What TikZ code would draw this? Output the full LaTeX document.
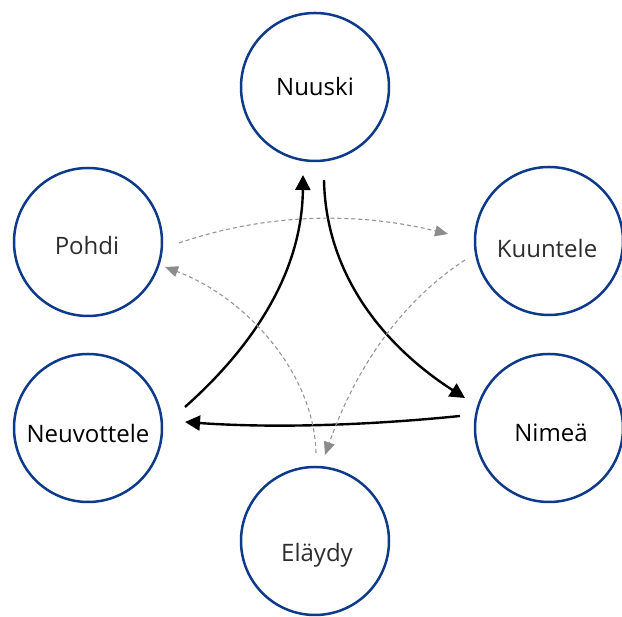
\documentclass[tikz,border=0pt]{standalone}
\usepackage{fontspec}
\setmainfont{Open Sans}
\usetikzlibrary{arrows.meta,calc}
\definecolor{ringblue}{RGB}{14,58,138}
\definecolor{flowgray}{RGB}{150,150,150}
\definecolor{tipgray}{RGB}{140,140,140}
\definecolor{softtext}{RGB}{45,45,45}
\begin{document}
\begin{tikzpicture}[x=1pt,y=1pt,
  ring/.style={circle, draw=ringblue, line width=2.5pt, minimum size=148pt,
    inner sep=0pt, outer sep=0pt},
  lblmain/.style={anchor=base, font=\fontsize{24}{28}\selectfont, text=black, inner sep=0pt},
  lblsoft/.style={lblmain, text=softtext},
  mainflow/.style={line width=2.4pt, -{Triangle[length=15pt,width=15pt]}},
  sideflow/.style={flowgray, line width=1.1pt, dash pattern=on 4pt off 3pt,
    -{Triangle[length=13pt,width=11pt,color=tipgray,fill=tipgray]}}]

\useasboundingbox[fill=white] (0,0) rectangle (622,617);

% circles
\node[ring] (nuuski) at (315,530) {};
\node[ring] (pohdi) at (88,375) {};
\node[ring] (kuuntele) at (549,376) {};
\node[ring] (neuvottele) at (88,189) {};
\node[ring] (nimea) at (549,189) {};
\node[ring] (elaydy) at (315,76) {};

% labels
\node[lblmain] (nuuski-t) at (315,521) {Nuuski};
\node[lblsoft] (pohdi-t) at (87,362) {Pohdi};
\node[lblsoft] (kuuntele-t) at (547,359) {Kuuntele};
\node[lblmain] (neuvottele-t) at (88,174) {Neuvottele};
\node[lblmain] (nimea-t) at (551,175) {Nimeä};
\node[lblsoft] (elaydy-t) at (317,55) {Eläydy};

% main cycle
\draw[mainflow] ($(nuuski)+(9,-93)$) .. controls +(2,-100) and +(-75,48) .. ($(nimea)+(-84,30)$);
\draw[mainflow] ($(nimea)+(-89,12)$) .. controls +(-99,-10) and +(84,-6) .. ($(neuvottele)+(97,6)$);
\draw[mainflow] ($(neuvottele)+(97,21)$) .. controls +(45,40) and +(-1,-115) .. ($(nuuski)+(-12,-88)$);

% secondary cycle
\draw[sideflow] ($(pohdi)+(91,-1)$) .. controls +(85,29) and +(-94,23) .. ($(kuuntele)+(-101,7)$);
\draw[sideflow] ($(kuuntele)+(-84,-19)$) .. controls +(-63,-41) and +(31,88) .. ($(elaydy)+(10,86)$);
\draw[sideflow] ($(elaydy)+(1,88)$) .. controls +(-2,81) and +(80,-30) .. ($(pohdi)+(77,-25)$);
\end{tikzpicture}
\end{document}
